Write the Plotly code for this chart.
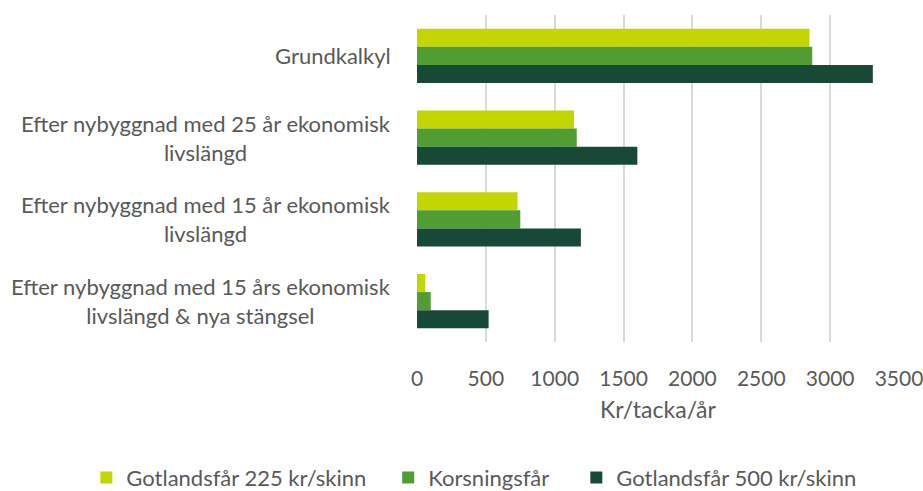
import plotly.graph_objects as go

categories = [
    "Grundkalkyl",
    "Efter nybyggnad med 25 år ekonomisk<br>livslängd",
    "Efter nybyggnad med 15 år ekonomisk<br>livslängd",
    "Efter nybyggnad med 15 års ekonomisk<br>livslängd & nya stängsel",
]
series_names = ["Gotlandsfår 225 kr/skinn", "Korsningsfår", "Gotlandsfår 500 kr/skinn"]
gotland_225 = [2850, 1140, 730, 60]
korsning = [2870, 1160, 750, 100]
gotland_500 = [3310, 1600, 1190, 520]
colors = ["#C4D600", "#509E33", "#184836"]
x_ticks = [0, 500, 1000, 1500, 2000, 2500, 3000, 3500]

font_family = "Lato, 'Open Sans', sans-serif"
text_color = "#595959"
# trailing non-breaking spaces only widen the gap between legend entries
legend_pad = ["\u00a0\u00a0\u00a0", "\u00a0\u00a0\u00a0\u00a0", ""]

fig = go.Figure()
for name, pad, vals, col in zip(series_names, legend_pad,
                                [gotland_225, korsning, gotland_500], colors):
    fig.add_trace(go.Bar(
        y=categories, x=vals, name=name + pad, orientation="h",
        marker=dict(color=col, line=dict(width=0)),
    ))

# Category labels as centered multi-line annotations
for cat in categories:
    fig.add_annotation(
        x=0, xref="paper", y=cat, yref="y", xanchor="right", yanchor="middle",
        text=cat, showarrow=False, align="center", xshift=-24,
        font=dict(family=font_family, size=22, color=text_color),
    )

fig.update_layout(
    width=923, height=491,
    margin=dict(l=417, r=24, t=15, b=149, autoexpand=False),
    barmode="group", bargap=0.335, bargroupgap=0,
    plot_bgcolor="white", paper_bgcolor="white",
    font=dict(family=font_family, size=21, color=text_color),
    xaxis=dict(
        range=[0, 3500], tickvals=x_ticks, showgrid=True, gridcolor="#D9D9D9",
        gridwidth=1.5, zeroline=False, showline=False, ticks="",
        ticklabelstandoff=22, ticklabeloverflow="allow",
        tickfont=dict(size=21, color=text_color),
        title=dict(text="Kr/tacka/år", font=dict(size=23, color=text_color), standoff=12),
    ),
    yaxis=dict(
        autorange="reversed", showgrid=False, showline=False, ticks="",
        showticklabels=False,
    ),
    legend=dict(
        orientation="h", x=-0.686, xanchor="left", y=-0.415, yanchor="middle",
        font=dict(size=22, color=text_color),
        traceorder="normal", itemwidth=30,
    ),
)

fig.write_html(
    "out.html",
    config={"displayModeBar": False},
    post_script="document.body.style.margin='0';document.body.style.overflow='hidden';",
)
